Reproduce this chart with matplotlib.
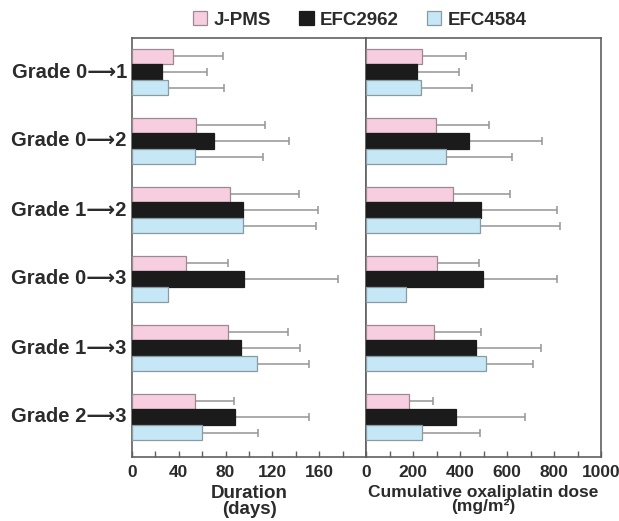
import numpy as np
import matplotlib
matplotlib.use('Agg')
import matplotlib.pyplot as plt
from matplotlib.patches import Patch

plt.rcParams['font.family'] = ['Liberation Sans', 'DejaVu Sans']
plt.rcParams['font.weight'] = 'bold'
plt.rcParams['axes.labelweight'] = 'bold'

# transitions (rows, top to bottom)
grades = ['Grade 0\u27f61', 'Grade 0\u27f62', 'Grade 1\u27f62',
          'Grade 0\u27f63', 'Grade 1\u27f63', 'Grade 2\u27f63']
series = ['J-PMS', 'EFC2962', 'EFC4584']

# duration (days): mean and SD
dur_jpms = [35, 55, 84, 46, 82, 54]
dur_jpms_sd = [43, 59, 59, 36, 51, 33]
dur_efc2962 = [26, 70, 95, 96, 93, 88]
dur_efc2962_sd = [38, 64, 64, 80, 51, 63]
dur_efc4584 = [31, 54, 95, 31, 107, 60]
dur_efc4584_sd = [48, 58, 62, np.nan, 44, 48]

# cumulative oxaliplatin dose (mg/m2): mean and SD
dose_jpms = [238, 298, 370, 302, 290, 183]
dose_jpms_sd = [187, 225, 243, 179, 199, 102]
dose_efc2962 = [217, 438, 489, 498, 468, 383]
dose_efc2962_sd = [179, 311, 324, 315, 277, 294]
dose_efc4584 = [234, 340, 485, 170, 511, 238]
dose_efc4584_sd = [217, 281, 341, np.nan, 200, 247]

colors = ['#f7cde0', '#1b1b1b', '#c6e7f6']
edges = ['#9a8a90', '#1b1b1b', '#8a9aa2']
txt = '#2b2b2b'
spine_c = '#606060'

fig = plt.figure(figsize=(6.19, 5.21), dpi=100)
ax1 = fig.add_axes([132/619, 1-457/521, 234/619, 419/521])
ax2 = fig.add_axes([366/619, 1-457/521, 235/619, 419/521])

y = np.arange(len(grades))
h = 0.225
offs = [-h, 0, h]


def draw(ax, vals, sds):
    for k in range(3):
        ax.barh(y + offs[k], vals[k], height=h, color=colors[k],
                edgecolor=edges[k], linewidth=0.9, zorder=3)
        for i in range(len(y)):
            if np.isfinite(sds[k][i]):
                ax.errorbar(vals[k][i], y[i] + offs[k], xerr=[[0], [sds[k][i]]],
                            fmt='none', ecolor='#959595', elinewidth=1.1,
                            capsize=3, capthick=1.1, zorder=2)
    ax.set_ylim(len(y) - 1 + 40/69, -34/69)
    ax.set_yticks([])
    for s in ax.spines.values():
        s.set_color(spine_c)
        s.set_linewidth(1.2)
    ax.tick_params(axis='x', direction='in', length=4, width=1, color=spine_c,
                   labelsize=12.5, labelcolor=txt, pad=6)


draw(ax1, [dur_jpms, dur_efc2962, dur_efc4584],
     [dur_jpms_sd, dur_efc2962_sd, dur_efc4584_sd])
draw(ax2, [dose_jpms, dose_efc2962, dose_efc4584],
     [dose_jpms_sd, dose_efc2962_sd, dose_efc4584_sd])

ax1.set_xlim(0, 200)
ax1.set_xticks(np.arange(0, 200, 20))
ax1.set_xticklabels([str(v) if v % 40 == 0 else '' for v in range(0, 200, 20)])
ax2.set_xlim(0, 1000)
ax2.set_xticks(np.arange(0, 1001, 100))
ax2.set_xticklabels([str(v) if v % 200 == 0 else '' for v in range(0, 1001, 100)])

ax1.set_xlabel('Duration\n(days)', fontsize=13.5, color=txt, labelpad=3,
               linespacing=0.95)
ax2.set_xlabel('Cumulative oxaliplatin dose\n(mg/m\u00b2)', fontsize=12.5,
               color=txt, labelpad=3, linespacing=0.95)

for i, g in enumerate(grades):
    ax1.text(-0.022, y[i], g, transform=ax1.get_yaxis_transform(),
             ha='right', va='center', fontsize=14.5, color=txt)

handles = [Patch(facecolor=colors[k], edgecolor=edges[k], linewidth=0.9)
           for k in range(3)]
fig.legend(handles, series, loc='center', bbox_to_anchor=(360/619, 1-20/521),
           ncol=3, frameon=False, fontsize=13.5, handlelength=0.75,
           handleheight=0.75, handletextpad=0.35, columnspacing=1.5,
           labelcolor=txt)

fig.savefig('out.png', dpi=100)
